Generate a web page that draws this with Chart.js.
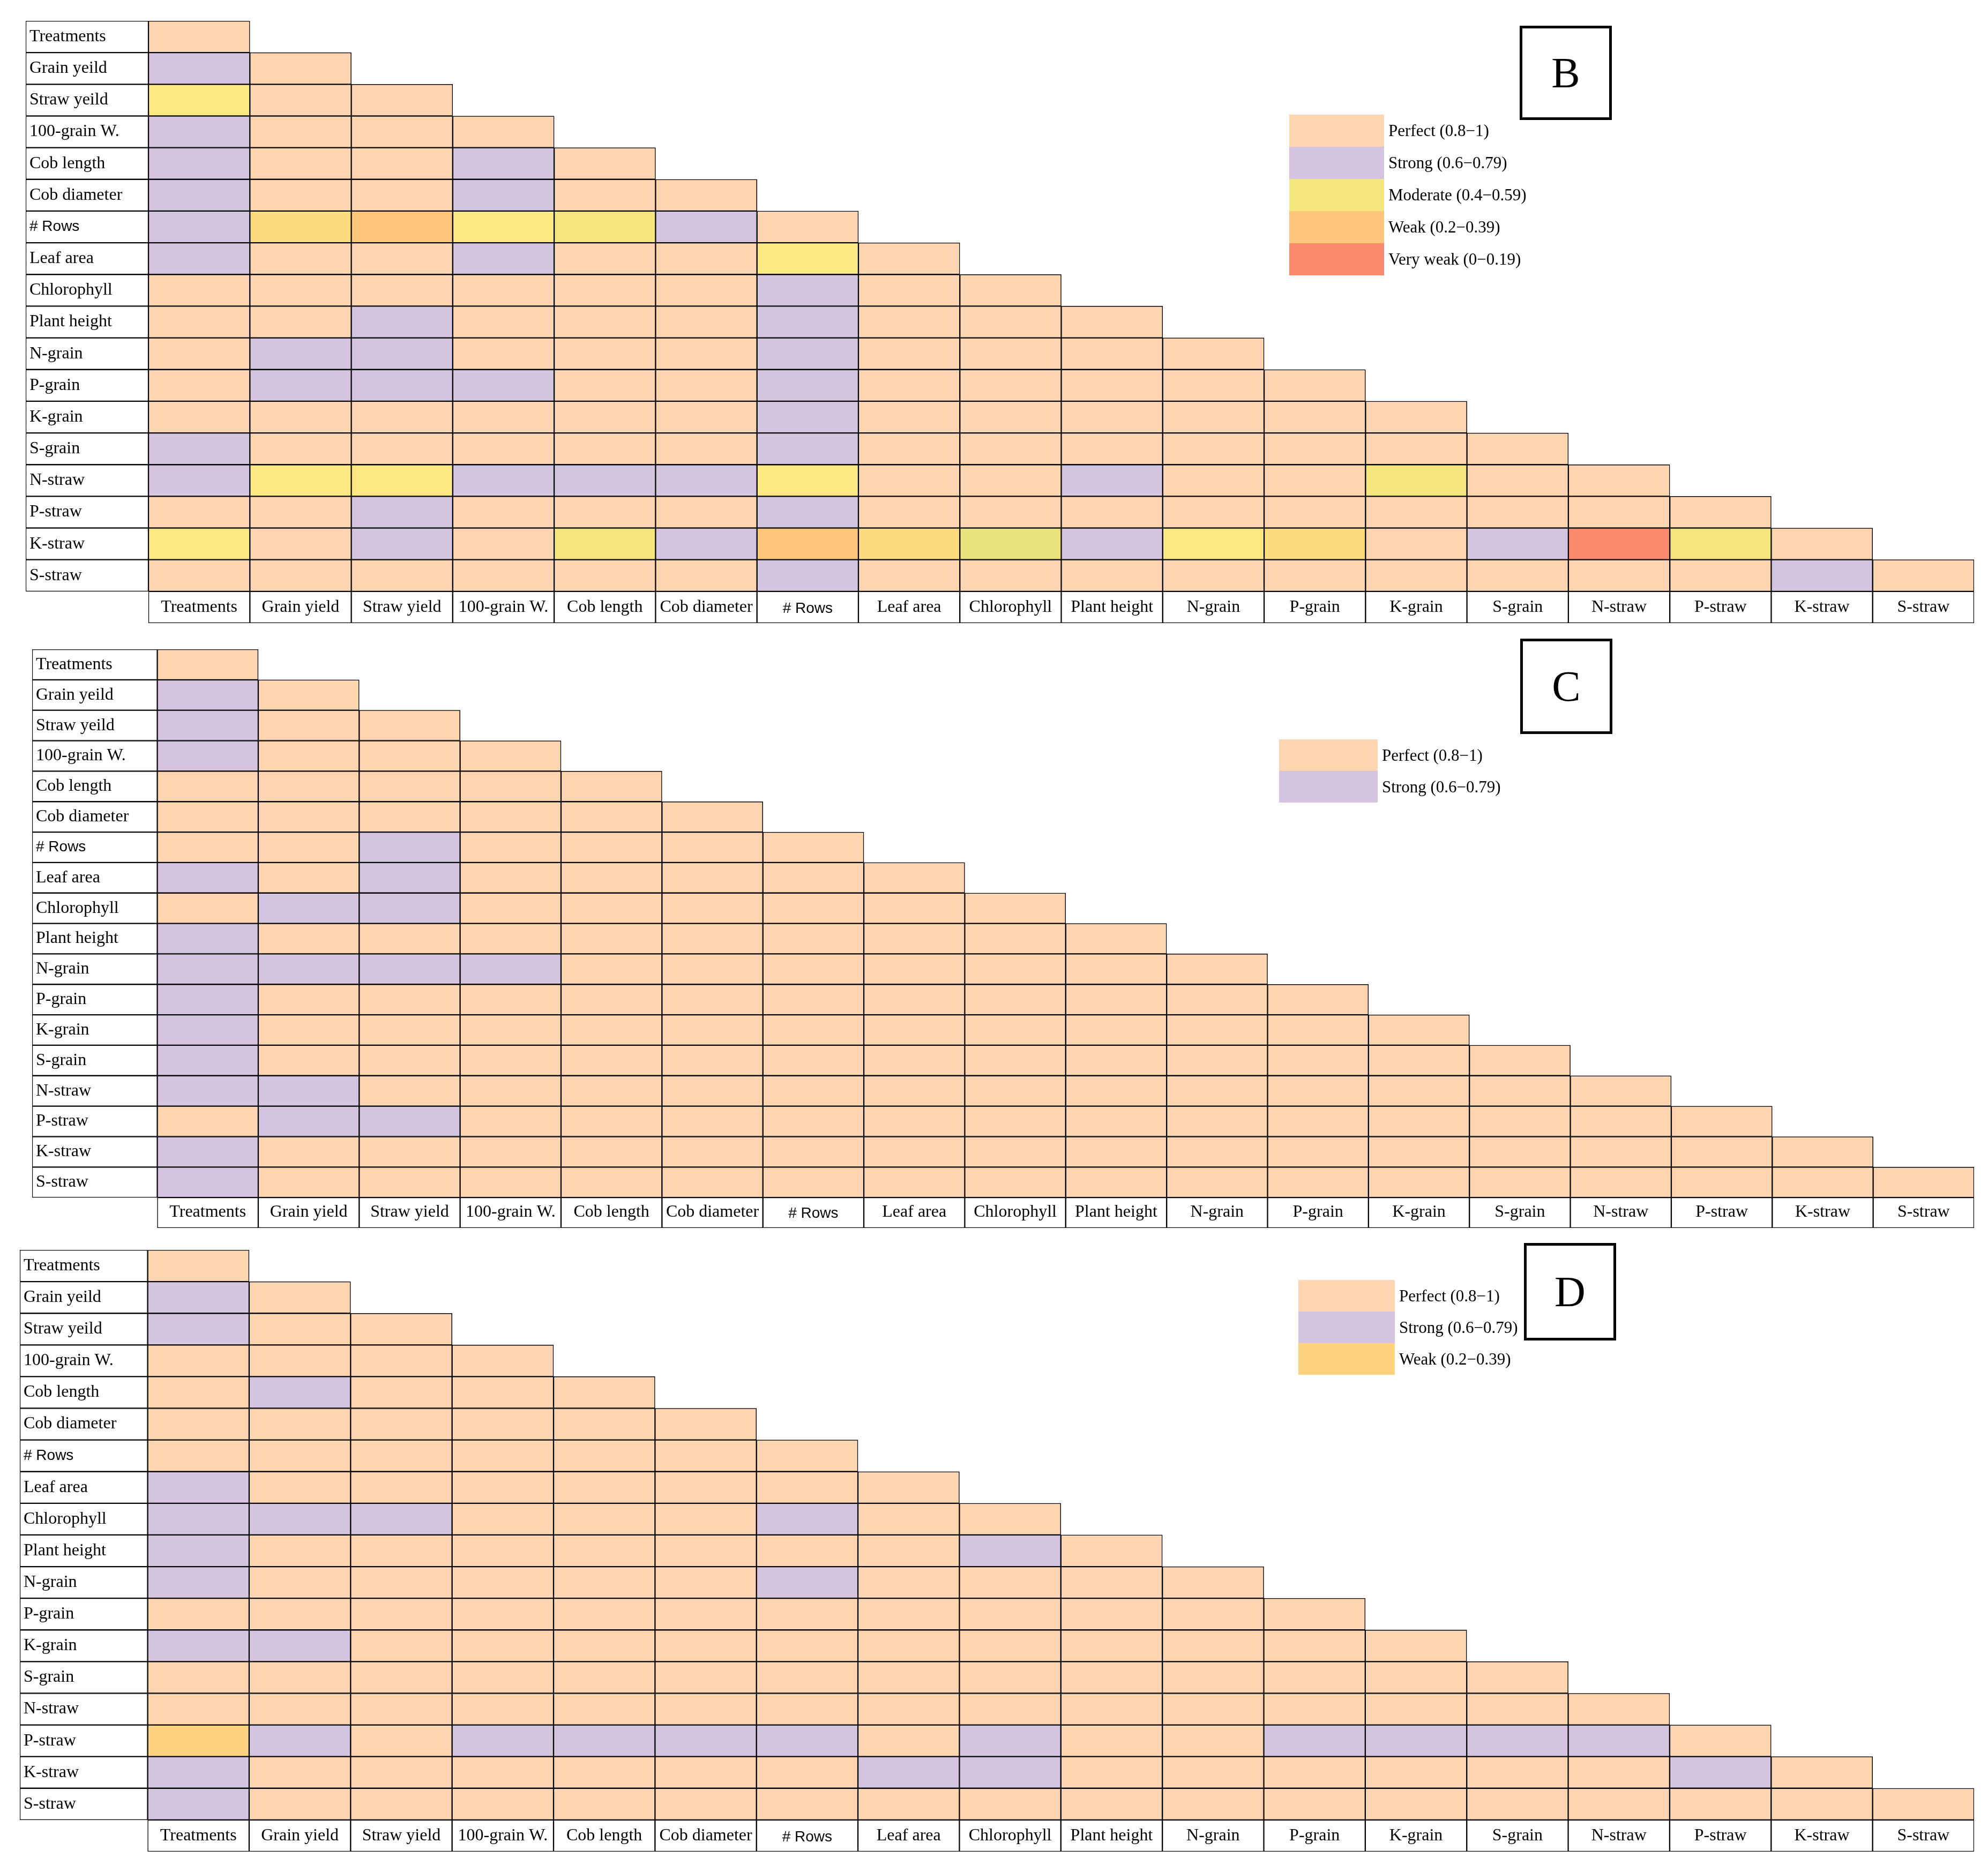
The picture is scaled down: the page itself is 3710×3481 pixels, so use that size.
<!DOCTYPE html>
<html lang="en">
<head>
<meta charset="UTF-8">
<title>Correlation matrices B, C, D</title>
<script src="https://cdn.jsdelivr.net/npm/chart.js"></script>
<style>
  body {
    margin: 0;
    background: #fff;
    width: 3710px;
    height: 3481px;
    position: relative;
    font-family: 'Liberation Serif', 'Times New Roman', serif;
  }
  .panel { position: absolute; }
  .tag {
    position: absolute;
    border: 5px solid #000;
    box-sizing: border-box;
    display: flex;
    align-items: center;
    justify-content: center;
    font-size: 80px;
    color: #000;
  }
  .key { position: absolute; }
  .key .item { display: flex; align-items: center; }
  .key .sw { flex: none; }
  .key span { font-size: 31px; padding-left: 8px; color: #000; white-space: nowrap; }
</style>
</head>
<body>
  <div class="panel" id="wrapB"><canvas id="chartB"></canvas></div>
  <div class="panel" id="wrapC"><canvas id="chartC"></canvas></div>
  <div class="panel" id="wrapD"><canvas id="chartD"></canvas></div>

<script>
// row labels (left column) and column labels (bottom row), as printed
const rowLabels = ['Treatments', 'Grain yeild', 'Straw yeild', '100-grain W.', 'Cob length', 'Cob diameter',
  '# Rows', 'Leaf area', 'Chlorophyll', 'Plant height', 'N-grain', 'P-grain', 'K-grain', 'S-grain',
  'N-straw', 'P-straw', 'K-straw', 'S-straw'];
const colLabels = ['Treatments', 'Grain yield', 'Straw yield', '100-grain W.', 'Cob length', 'Cob diameter',
  '# Rows', 'Leaf area', 'Chlorophyll', 'Plant height', 'N-grain', 'P-grain', 'K-grain', 'S-grain',
  'N-straw', 'P-straw', 'K-straw', 'S-straw'];

// one letter per cell: P perfect, S strong, M/G moderate, Y/A yellow shades, W weak, O weak (D), V very weak
const codesB = ['P', 'SP', 'YPP', 'SPPP', 'SPPSP', 'SPPSPP', 'SAWYMSP', 'SPPSPPYP', 'PPPPPPSPP',
  'PPSPPPSPPP', 'PSSPPPSPPPP', 'PSSSPPSPPPPP', 'PPPPPPSPPPPPP', 'SPPPPPSPPPPPPP',
  'SYYSSSYPPSPPMPP', 'PPSPPPSPPPPPPPPP', 'YPSPMSWAGSYAPSVMP', 'PPPPPPSPPPPPPPPPSP'];
const codesC = ['P', 'SP', 'SPP', 'SPPP', 'PPPPP', 'PPPPPP', 'PPSPPPP', 'SPSPPPPP', 'PSSPPPPPP',
  'SPPPPPPPPP', 'SSSSPPPPPPP', 'SPPPPPPPPPPP', 'SPPPPPPPPPPPP', 'SPPPPPPPPPPPPP',
  'SSPPPPPPPPPPPPP', 'PSSPPPPPPPPPPPPP', 'SPPPPPPPPPPPPPPPP', 'SPPPPPPPPPPPPPPPPP'];
const codesD = ['P', 'SP', 'SPP', 'PPPP', 'PSPPP', 'PPPPPP', 'PPPPPPP', 'SPPPPPPP', 'SSSPPPSPP',
  'SPPPPPPPSP', 'SPPPPPSPPPP', 'PPPPPPPPPPPP', 'SSPPPPPPPPPPP', 'PPPPPPPPPPPPPP',
  'PPPPPPPPPPPPPPP', 'OSPSSSSPSPPSSSSP', 'SPPPPPPSSPPPPPPSP', 'SPPPPPPPPPPPPPPPPP'];

const legendB = [['Perfect (0.8\u22121)', 'P'], ['Strong (0.6\u22120.79)', 'S'], ['Moderate (0.4\u22120.59)', 'M'],
  ['Weak (0.2\u22120.39)', 'W'], ['Very weak (0\u22120.19)', 'V']];
const legendC = [['Perfect (0.8\u22121)', 'P'], ['Strong (0.6\u22120.79)', 'S']];
const legendD = [['Perfect (0.8\u22121)', 'P'], ['Strong (0.6\u22120.79)', 'S'], ['Weak (0.2\u22120.39)', 'O']];

const colours = {
  P: '#FDD5B1', S: '#D4C4DF', M: '#F3E67D', G: '#E9E37E', Y: '#FEE881',
  A: '#FDDC80', W: '#FDC67A', O: '#FDD37F', V: '#FC8A6E'
};

// where each panel sits on the page
const panels = [
  { id: 'B', codes: codesB, legend: legendB, lw: 1.21,
    box: { left: 48, top: 39, right: 3684, bottom: 1163 },
    tag: { left: 2836, top: 48, w: 172, h: 176 },
    key: { left: 2406, top: 214, w: 177, h: 60 } },
  { id: 'C', codes: codesC, legend: legendC, lw: 1.24,
    box: { left: 60, top: 1212, right: 3684, bottom: 2292 },
    tag: { left: 2837, top: 1192, w: 172, h: 178 },
    key: { left: 2387, top: 1380, w: 184, h: 59 } },
  { id: 'D', codes: codesD, legend: legendD, lw: 1.26,
    box: { left: 37, top: 2333, right: 3684, bottom: 3456 },
    tag: { left: 2844, top: 2320, w: 172, h: 182 },
    key: { left: 2423, top: 2389, w: 180, h: 59 } }
];

const tickFont = ctx => ctx.index === 6
  ? { family: "'Liberation Sans', Arial, sans-serif", size: 28 }
  : { family: "'Liberation Serif', 'Times New Roman', serif", size: 32 };

function drawPanel(p) {
  const wrap = document.getElementById('wrap' + p.id);
  wrap.style.left = p.box.left + 'px';
  wrap.style.top = p.box.top + 'px';
  wrap.style.width = (p.box.right - p.box.left) + 'px';
  wrap.style.height = (p.box.bottom - p.box.top) + 'px';

  const n = rowLabels.length;
  const labels = rowLabels.concat(['']);   // last slot = bottom row of column names

  // white label column on the left
  const datasets = [{
    data: labels.map((_, r) => r < n ? [-p.lw, 0] : null),
    backgroundColor: '#fff'
  }];
  // one dataset per matrix column, lower triangle only
  colLabels.forEach((_, c) => {
    datasets.push({
      data: labels.map((_, r) => (r === n || c <= r) ? [c, c + 1] : null),
      backgroundColor: labels.map((_, r) => r === n ? '#fff' : (colours[p.codes[r][c]] || '#fff'))
    });
  });

  new Chart(document.getElementById('chart' + p.id), {
    type: 'bar',
    data: { labels, datasets },
    options: {
      indexAxis: 'y',
      responsive: true,
      maintainAspectRatio: false,
      animation: false,
      devicePixelRatio: 1,
      layout: { padding: 0 },
      datasets: {
        bar: {
          grouped: false,
          barPercentage: 1,
          categoryPercentage: 1,
          borderColor: '#000',
          borderWidth: 1.5,
          borderSkipped: false
        }
      },
      plugins: { legend: { display: false }, tooltip: { enabled: false } },
      scales: {
        x: {
          type: 'linear',
          min: -p.lw,
          max: colLabels.length,
          bounds: 'data',
          grid: { display: false },
          border: { display: false },
          afterBuildTicks: s => { s.ticks = colLabels.map((_, c) => ({ value: c + 0.5 })); },
          afterFit: s => { s.height = 0; s.paddingLeft = 0; s.paddingRight = 0; },
          ticks: {
            z: 1, mirror: true, padding: 10, autoSkip: false, maxRotation: 0, minRotation: 0,
            color: '#000', font: tickFont,
            callback: (v, i) => colLabels[i]
          }
        },
        y: {
          grid: { display: false },
          border: { display: false },
          afterFit: s => { s.width = 0; s.paddingTop = 0; s.paddingBottom = 0; },
          ticks: { z: 1, mirror: true, padding: 7, autoSkip: false, color: '#000', font: tickFont }
        }
      }
    }
  });

  // panel letter in its box
  const tag = document.createElement('div');
  tag.className = 'tag';
  tag.textContent = p.id;
  Object.assign(tag.style, { left: p.tag.left + 'px', top: p.tag.top + 'px', width: p.tag.w + 'px', height: p.tag.h + 'px' });
  document.body.appendChild(tag);

  // stacked colour key
  const key = document.createElement('div');
  key.className = 'key';
  Object.assign(key.style, { left: p.key.left + 'px', top: p.key.top + 'px' });
  p.legend.forEach(([text, code]) => {
    const item = document.createElement('div');
    item.className = 'item';
    item.innerHTML = `<div class="sw" style="width:${p.key.w}px;height:${p.key.h}px;background:${colours[code]}"></div><span>${text}</span>`;
    key.appendChild(item);
  });
  document.body.appendChild(key);
}

panels.forEach(drawPanel);
</script>
</body>
</html>
